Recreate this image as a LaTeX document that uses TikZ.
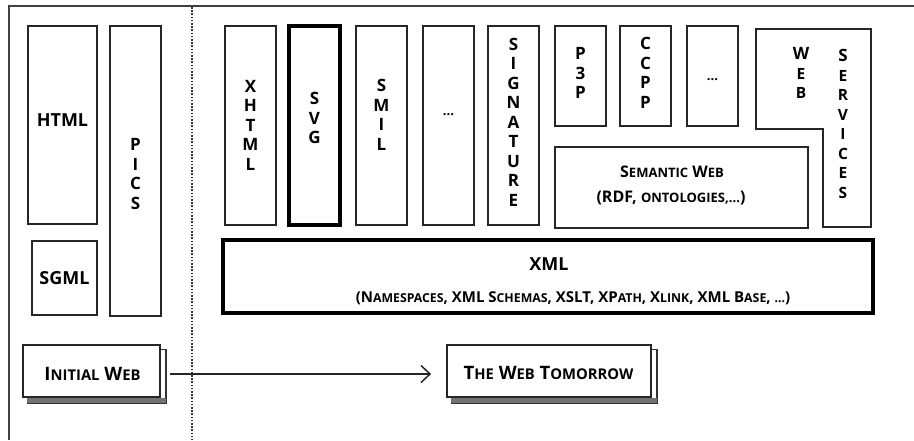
\documentclass[tikz,border=0pt]{standalone}
\usepackage{fontspec}
\setmainfont{Open Sans}
\usetikzlibrary{arrows.meta}

% size of the small-capital letters, set per label
\newcommand\smsz{15.5}
\newcommand\sm[1]{{\fontsize{\smsz}{\smsz}\selectfont #1}}

\pgfdeclarelayer{bg}
\pgfsetlayers{bg,main}

\begin{document}
\begin{tikzpicture}[x=1pt,y=-1pt,
  box/.style={draw=black!85, line width=1.8pt, fill=white, inner sep=0pt},
  thickbox/.style={draw=black, line width=3.2pt, fill=white, inner sep=0pt},
  vlbl/.style={font=\bfseries\fontsize{17}{19.5}\selectfont, align=center, inner sep=0pt},
  txt/.style={inner sep=0pt, font=\bfseries},
  conn/.style={black!85, line width=1.5pt, -{Straight Barb[length=9pt,width=17pt,line width=1.5pt]}},
]
\useasboundingbox (0,0) rectangle (914,440);

% frame and the dotted divider
\draw[black!75, line width=2pt] (9,440) -- (9,6) -- (914,6);
\draw[black!80, line width=1.6pt, dash pattern=on 1.6pt off 1.6pt] (192,7) -- (192,440);

% left column: the initial web
\node[box, minimum width=69pt, minimum height=198pt] (html) at (62.5,125) {};
\node[txt, font=\bfseries\fontsize{18}{18}\selectfont] (htmlt) at (62.5,120) {HTML};
\node[box, minimum width=51pt, minimum height=290pt] (pics) at (135.5,171) {};
\node[vlbl] (picst) at (135.5,174) {P\\I\\C\\S};
\node[box, minimum width=65pt, minimum height=74pt] (sgml) at (64.5,278) {};
\node[txt, font=\bfseries\fontsize{18}{18}\selectfont] (sgmlt) at (64.5,278) {SGML};

% vertical language bars
\node[box, minimum width=51pt, minimum height=199pt] (xhtml) at (250.5,125.5) {};
\node[vlbl] (xhtmlt) at (250.5,125) {X\\H\\T\\M\\L};
\node[thickbox, minimum width=51pt, minimum height=199pt] (svg) at (314.5,125.5) {};
\node[vlbl] (svgt) at (314.5,118) {S\\V\\G};
\node[box, minimum width=51pt, minimum height=199pt] (smil) at (381.5,125.5) {};
\node[vlbl] (smilt) at (381.5,115) {S\\M\\I\\L};
\node[box, minimum width=51pt, minimum height=199pt] (etc1) at (448.5,125.5) {};
\node[txt, font=\bfseries\fontsize{13}{13}\selectfont] (etc1t) at (448.5,115) {...};
\node[box, minimum width=51pt, minimum height=199pt] (sig) at (513.5,125.5) {};
\node[vlbl] (sigt) at (513.5,122) {S\\I\\G\\N\\A\\T\\U\\R\\E};

% short bars above the semantic web
\node[box, minimum width=51pt, minimum height=100pt] (p3p) at (580.5,76) {};
\node[vlbl] (p3pt) at (580.5,73) {P\\3\\P};
\node[box, minimum width=51pt, minimum height=100pt] (ccpp) at (645.5,76) {};
\node[vlbl] (ccppt) at (645.5,73) {C\\C\\P\\P};
\node[box, minimum width=51pt, minimum height=100pt] (etc2) at (712.5,76) {};
\node[txt, font=\bfseries\fontsize{13}{13}\selectfont] (etc2t) at (712.5,80) {...};

% web services: an L-shaped block
\draw[black!85, line width=1.8pt, fill=white]
  (756,29) -- (871,29) -- (871,227) -- (823,227) -- (823,129) -- (756,129) -- cycle;
\node[vlbl] (webt) at (801,73) {W\\\sm{E}\\\sm{B}};
\node[vlbl] (servt) at (843,124) {S\\\sm{E}\\\sm{R}\\\sm{V}\\\sm{I}\\\sm{C}\\\sm{E}\\\sm{S}};

% semantic web
\renewcommand\smsz{13}
\node[box, minimum width=253pt, minimum height=81pt] (sem) at (681.5,187.5) {};
\node[txt, font=\bfseries\fontsize{16}{18}\selectfont] (semt) at (672,172) {S\sm{EMANTIC} W\sm{EB}};
\node[txt, font=\bfseries\fontsize{16}{18}\selectfont] (semst) at (671,198) {(RDF, \sm{ONTOLOGIES,...})};

% XML foundation
\node[thickbox, minimum width=650pt, minimum height=73pt] (xml) at (548,276.5) {};
\node[txt, font=\bfseries\fontsize{18}{18}\selectfont] (xmlt) at (549,264) {XML};
\renewcommand\smsz{12.3}
\node[txt, font=\bfseries\fontsize{15}{16}\selectfont] (xmlst) at (573,298)
  {(N\sm{AMESPACES}, XML S\sm{CHEMAS}, XSLT, XP\sm{ATH}, X\sm{LINK}, XML B\sm{ASE}, \sm{...})};

% the two eras, each with a stacked shadow
\renewcommand\smsz{14.8}
\node[box, minimum width=137pt, minimum height=52pt] (init) at (91.5,371) {};
\node[txt, font=\bfseries\fontsize{18.5}{18}\selectfont] (initt) at (92.5,374) {I\sm{NITIAL} W\sm{EB}};
\node[box, minimum width=204pt, minimum height=52pt] (tom) at (549,371) {};
\node[txt, font=\bfseries\fontsize{18.5}{18}\selectfont] (tomt) at (548.5,373) {T\sm{HE} W\sm{EB} T\sm{OMORROW}};

\begin{pgfonlayer}{bg}
  \foreach \n in {init,tom} {
    \draw[black!80, line width=1.2pt, fill=white]
      ([shift={(5pt,-5pt)}]\n.south west) rectangle ([shift={(5pt,-5pt)}]\n.north east);
    \fill[black!55] ([xshift=5pt]\n.south west) rectangle ([shift={(5pt,-5pt)}]\n.south east);
  }
\end{pgfonlayer}

\draw[conn] ([shift={(9pt,-3pt)}]init.east) -- ([shift={(-15pt,-3pt)}]tom.west);

\end{tikzpicture}
\end{document}
